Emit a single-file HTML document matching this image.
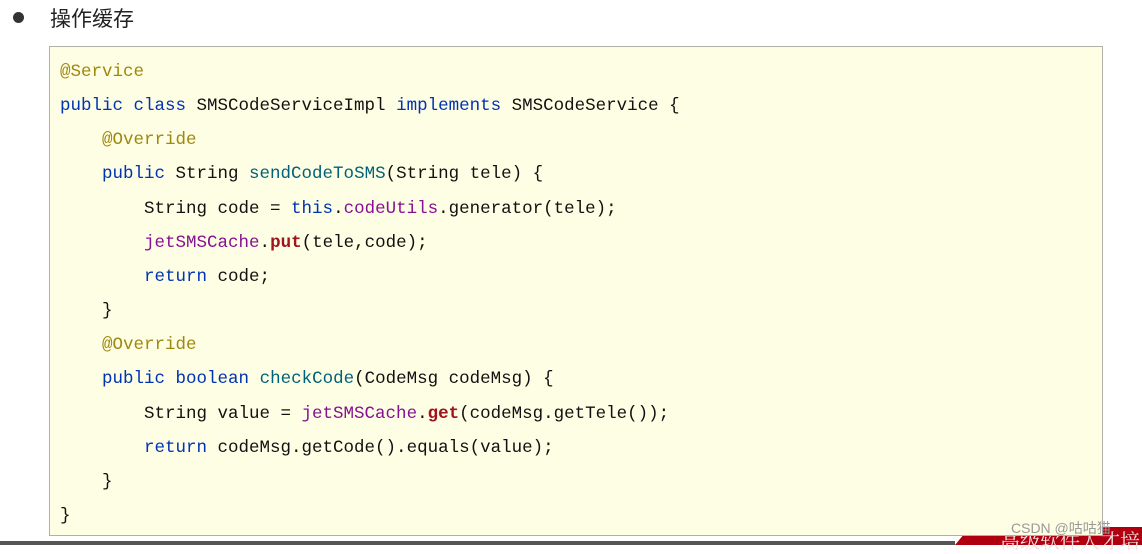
<!DOCTYPE html>
<html><head><meta charset="utf-8"><style>
body{margin:0;width:1142px;height:545px;background:#fff;position:relative;overflow:hidden;font-family:"Liberation Sans","Noto Sans CJK SC",sans-serif}
.dot{position:absolute;left:13px;top:12px;width:11px;height:11px;border-radius:50%;background:#333}
.title{position:absolute;left:50px;top:3px;font-size:21px;color:#222}
.box{position:absolute;left:49px;top:46px;width:1052px;height:488px;background:#fefee4;border:1px solid #b0b0a8}
pre{margin:0;position:absolute;left:10px;top:8px;font-family:"Liberation Mono",monospace;font-size:17.5px;line-height:34.15px;color:#111}
.a{color:#9e880d}.k{color:#0033b3}.m{color:#00627a}.f{color:#871094}.b{color:#a0141e;font-weight:bold}
.red{position:absolute;left:955px;top:527px;width:187px;height:18px;background:#b00010;clip-path:polygon(0 100%,8% 0,100% 0,100% 100%)}
.redt{position:absolute;left:1000px;top:525px;font-size:20px;color:#f4e0e0;font-family:"Noto Serif CJK SC",serif;white-space:nowrap}
.bar{position:absolute;left:0;top:541px;width:955px;height:4px;background:#555}
.wm{position:absolute;left:1011px;top:518px;font-size:14px;color:#999}
</style></head><body>
<div class="dot"></div><div class="title">操作缓存</div>
<div class="bar"></div><div class="red"></div><div class="redt">高级软件人才培</div>
<div class="box"><pre><span class="a">@Service</span>
<span class="k">public class</span> SMSCodeServiceImpl <span class="k">implements</span> SMSCodeService {
    <span class="a">@Override</span>
    <span class="k">public</span> String <span class="m">sendCodeToSMS</span>(String tele) {
        String code = <span class="k">this</span>.<span class="f">codeUtils</span>.generator(tele);
        <span class="f">jetSMSCache</span>.<span class="b">put</span>(tele,code);
        <span class="k">return</span> code;
    }
    <span class="a">@Override</span>
    <span class="k">public boolean</span> <span class="m">checkCode</span>(CodeMsg codeMsg) {
        String value = <span class="f">jetSMSCache</span>.<span class="b">get</span>(codeMsg.getTele());
        <span class="k">return</span> codeMsg.getCode().equals(value);
    }
}</pre></div>
<div class="wm">CSDN @咕咕猫</div>
</body></html>
